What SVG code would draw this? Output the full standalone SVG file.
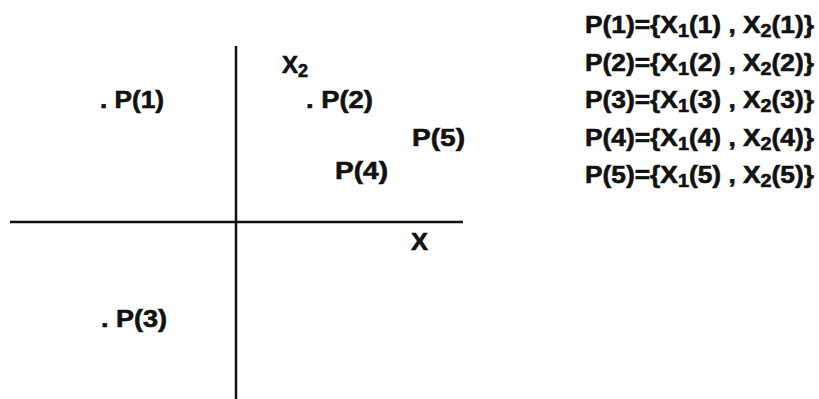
<svg xmlns="http://www.w3.org/2000/svg" width="819" height="399" viewBox="0 0 819 399">
<style>
  .lbl { font-family: "Liberation Sans", Arial, sans-serif; font-weight: bold; font-size: 24px; fill: #111; stroke: #111; stroke-width: 0.6; }
  .eq { font-family: "Liberation Sans", Arial, sans-serif; font-weight: bold; font-size: 24px; fill: #111; stroke: #111; stroke-width: 0.6; }
  .axis { stroke: #111; stroke-width: 2.5; fill: none; }
</style>
<rect width="819" height="399" fill="#fff"/>
<g id="connectors">
  <line class="axis" x1="10" y1="222" x2="463" y2="222"/>
  <line class="axis" x1="236" y1="46" x2="236" y2="399"/>
</g>
<g id="axis-x"><text class="lbl" x="411" y="250" textLength="17" lengthAdjust="spacingAndGlyphs">X</text></g>
<g id="axis-x2"><text class="lbl" x="282" y="73">X<tspan font-size="18" dy="4">2</tspan></text></g>
<g id="p1"><text class="lbl" x="100" y="108" textLength="64" lengthAdjust="spacingAndGlyphs">. P(1)</text></g>
<g id="p2"><text class="lbl" x="306" y="108" textLength="67" lengthAdjust="spacingAndGlyphs">. P(2)</text></g>
<g id="p3"><text class="lbl" x="101" y="327" textLength="66" lengthAdjust="spacingAndGlyphs">. P(3)</text></g>
<g id="p4"><text class="lbl" x="335" y="179" textLength="53" lengthAdjust="spacingAndGlyphs">P(4)</text></g>
<g id="p5"><text class="lbl" x="412" y="146" textLength="53" lengthAdjust="spacingAndGlyphs">P(5)</text></g>
<g id="equations">
  <text class="eq" x="585" y="33" textLength="229" lengthAdjust="spacingAndGlyphs">P(1)={X<tspan font-size="18" dy="4">1</tspan><tspan dy="-4">(1) , X</tspan><tspan font-size="18" dy="4">2</tspan><tspan dy="-4">(1)}</tspan></text>
  <text class="eq" x="585" y="71" textLength="229" lengthAdjust="spacingAndGlyphs">P(2)={X<tspan font-size="18" dy="4">1</tspan><tspan dy="-4">(2) , X</tspan><tspan font-size="18" dy="4">2</tspan><tspan dy="-4">(2)}</tspan></text>
  <text class="eq" x="585" y="108" textLength="229" lengthAdjust="spacingAndGlyphs">P(3)={X<tspan font-size="18" dy="4">1</tspan><tspan dy="-4">(3) , X</tspan><tspan font-size="18" dy="4">2</tspan><tspan dy="-4">(3)}</tspan></text>
  <text class="eq" x="585" y="146" textLength="229" lengthAdjust="spacingAndGlyphs">P(4)={X<tspan font-size="18" dy="4">1</tspan><tspan dy="-4">(4) , X</tspan><tspan font-size="18" dy="4">2</tspan><tspan dy="-4">(4)}</tspan></text>
  <text class="eq" x="585" y="183" textLength="229" lengthAdjust="spacingAndGlyphs">P(5)={X<tspan font-size="18" dy="4">1</tspan><tspan dy="-4">(5) , X</tspan><tspan font-size="18" dy="4">2</tspan><tspan dy="-4">(5)}</tspan></text>
</g>
</svg>
